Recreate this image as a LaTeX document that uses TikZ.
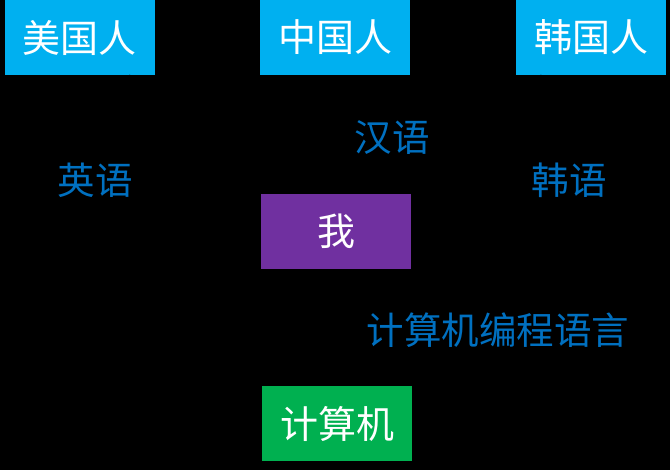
\documentclass[tikz,border=0pt]{standalone}
\usepackage{fontspec}
\newfontfamily\cjk{Noto Sans CJK SC}
\definecolor{boxcyan}{HTML}{00B0F0}
\definecolor{boxpurple}{HTML}{7030A0}
\definecolor{boxgreen}{HTML}{00B050}
\definecolor{labblue}{HTML}{0070C0}
\begin{document}
\begin{tikzpicture}[x=1pt,y=-1pt,
  box/.style={minimum width=150pt,minimum height=75pt,inner sep=0pt,text=white,font=\cjk\fontsize{38}{42}\selectfont},
  lab/.style={text=labblue,font=\cjk\fontsize{37.5}{42}\selectfont,inner sep=0pt},
  conn/.style={draw=black,line width=1.5pt,-latex}]
\fill[black] (0,0) rectangle (670,470);
\useasboundingbox (0,0) rectangle (670,470);
\node[box,fill=boxcyan] (us) at (79.5,37.5) {美国人};
\node[box,fill=boxcyan] (cn) at (335,37.5) {中国人};
\node[box,fill=boxcyan] (kr) at (591,37.5) {韩国人};
\node[box,fill=boxpurple] (me) at (336,231.5) {我};
\node[box,fill=boxgreen] (pc) at (337,423.5) {计算机};
\draw[conn] (us) -- (me);
\draw[conn] (cn) -- (me);
\draw[conn] (kr) -- (me);
\draw[conn] (me) -- (pc);
\node[lab] (en) at (95,180) {英语};
\node[lab] (zh) at (392,138) {汉语};
\node[lab] (ko) at (569,180) {韩语};
\node[lab] (prog) at (498,330) {计算机编程语言};
\end{tikzpicture}
\end{document}
